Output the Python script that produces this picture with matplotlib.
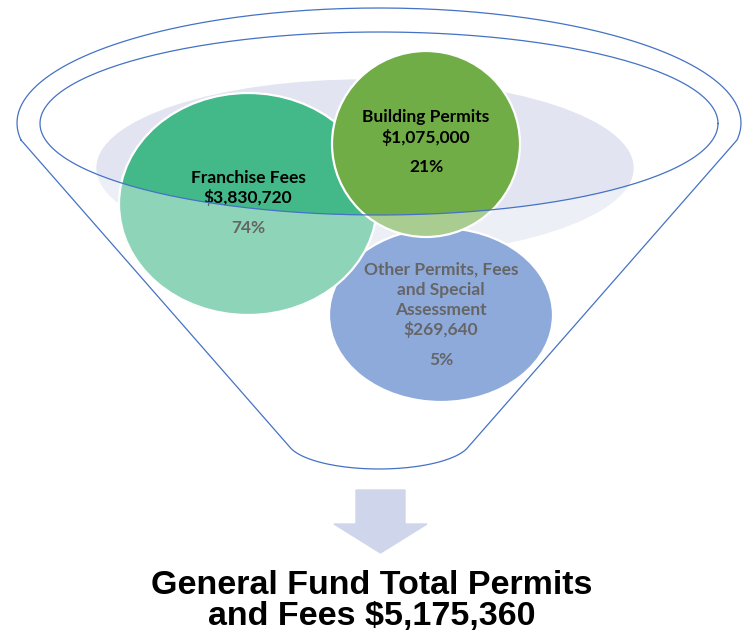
import numpy as np
import matplotlib
matplotlib.use("Agg")
import matplotlib.pyplot as plt
from matplotlib.patches import Ellipse, PathPatch, Polygon
from matplotlib.path import Path

# 수입 항목별 금액
categories = ["Franchise Fees", "Building Permits", "Other Permits, Fees\nand Special\nAssessment"]
amounts = [3830720, 1075000, 269640]
colors = ["#43B98A", "#70AD47", "#4472C4"]

total = sum(amounts)
percents = [round(100 * v / total) for v in amounts]

W, H = 749, 636
fig = plt.figure(figsize=(W / 100, H / 100), dpi=100)
ax = fig.add_axes([0, 0, 1, 1])
ax.set_xlim(0, W)
ax.set_ylim(H, 0)
ax.axis("off")

line_blue = "#4472C4"
label_font = dict(ha="center", va="center", fontsize=12.5, family="Lato",
                  weight="bold", color="black", zorder=5)

# 뒤쪽 배경 타원
ax.add_patch(Ellipse((365, 168), 536, 176, color="#E2E5F1", zorder=1))

# 원 배치 (중심, 가로, 세로, 텍스트 시작 y)
layout = {
    0: ((248, 204), 258, 222, 178),
    1: ((426, 144), 188, 186, 117),
    2: ((441, 315), 224, 174, 270),
}
zorders = {2: 2.0, 0: 2.1, 1: 2.2}
for i in [2, 0, 1]:
    (cx, cy), w, h, ty = layout[i]
    ax.add_patch(Ellipse((cx, cy), w, h, facecolor=colors[i], edgecolor="white",
                         lw=1.6, zorder=zorders[i]))
    y = ty
    for name in categories[i].split("\n"):
        ax.text(cx, y, name, **label_font)
        y += 20
    ax.text(cx, y, f"${amounts[i]:,}", **label_font)
    ax.text(cx, y + 30, f"{percents[i]}%", **label_font)

# 깔때기 외곽선
ocx, ocy, oa, ob = 379, 123, 362, 115
t0 = np.degrees(np.arcsin(17 / ob))
t = np.radians(np.linspace(180 + t0, -t0, 200))
top_x = ocx + oa * np.cos(t)
top_y = ocy - ob * np.sin(t)

bcx, bcy, ba, bb = 379, 440, 92, 29
s0 = np.degrees(np.arcsin(7 / bb))
s = np.radians(np.linspace(s0, 180 - s0, 80))
bot_x = bcx + ba * np.cos(s)
bot_y = bcy + bb * np.sin(s)

outer_x = np.concatenate([top_x, bot_x])
outer_y = np.concatenate([top_y, bot_y])

icx, icy, ia, ib = 379, 123.5, 339, 91.5
u = np.radians(np.linspace(0, 360, 240))
inner_x = icx + ia * np.cos(u)
inner_y = icy + ib * np.sin(u)

# 안쪽 타원을 구멍으로 하는 깔때기 몸통 (흰색 반투명)
verts = list(zip(outer_x, outer_y)) + [(outer_x[0], outer_y[0])]
codes = [Path.MOVETO] + [Path.LINETO] * (len(outer_x) - 1) + [Path.CLOSEPOLY]
hole = list(zip(inner_x[::-1], inner_y[::-1]))
verts += hole + [hole[0]]
codes += [Path.MOVETO] + [Path.LINETO] * (len(hole) - 1) + [Path.CLOSEPOLY]
body = Path(verts, codes)
ax.add_patch(PathPatch(body, facecolor="white", alpha=0.4, edgecolor="none", zorder=6))

ax.plot(np.append(outer_x, outer_x[0]), np.append(outer_y, outer_y[0]),
        color=line_blue, lw=0.9, zorder=7)
ax.plot(inner_x, inner_y, color=line_blue, lw=0.9, zorder=7)

# 아래 화살표
arrow = [(356, 490), (405, 490), (405, 524), (427, 524), (380.5, 553), (334, 524), (356, 524)]
ax.add_patch(Polygon(arrow, closed=True, color="#CFD5EA", zorder=3))

ax.text(372, 585, "General Fund Total Permits", ha="center", va="center",
        fontsize=24.5, family="Liberation Sans", weight="bold", color="black")
ax.text(372, 617, f"and Fees ${total:,}", ha="center", va="center",
        fontsize=24.5, family="Liberation Sans", weight="bold", color="black")

fig.savefig("out.png", dpi=100)
